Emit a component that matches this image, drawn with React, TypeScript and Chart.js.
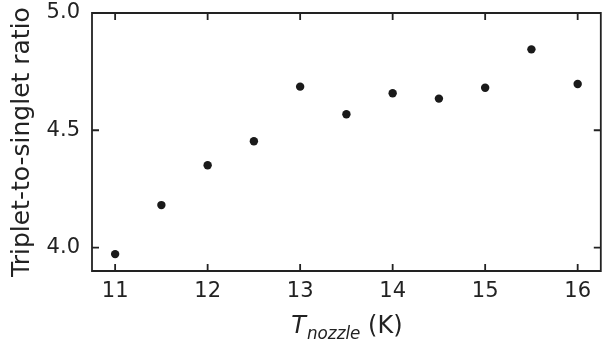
import React, { useEffect, useRef } from "react";
import { Chart, registerables } from "chart.js";

Chart.register(...registerables);

const temperatures = [11, 11.5, 12, 12.5, 13, 13.5, 14, 14.5, 15, 15.5, 16];
const ratios = [3.972, 4.181, 4.351, 4.453, 4.686, 4.568, 4.658, 4.635, 4.681, 4.845, 4.697];
const xTicks = [11, 12, 13, 14, 15, 16];
const yTicks = [4.0, 4.5, 5.0];
const xTitleMain = "T";
const xTitleSub = "nozzle";
const xTitleUnit = " (K)";
const yTitle = "Triplet-to-singlet ratio";

const INK = "#222222";
const FONT = "'DejaVu Sans', sans-serif";

const framePlugin = {
  id: "frameTicks",
  beforeDatasetsDraw(chart: any) {
    const { ctx, chartArea } = chart;
    const { left, right, top, bottom } = chartArea;
    const xs = chart.scales.x;
    const ys = chart.scales.y;
    const len = 7;
    ctx.save();
    ctx.strokeStyle = INK;
    ctx.lineWidth = 1.8;
    ctx.lineCap = "butt";
    ctx.beginPath();
    ctx.rect(left, top, right - left, bottom - top);
    ctx.stroke();
    ctx.beginPath();
    for (const v of xTicks) {
      const px = xs.getPixelForValue(v);
      ctx.moveTo(px, bottom);
      ctx.lineTo(px, bottom - len);
      ctx.moveTo(px, top);
      ctx.lineTo(px, top + len);
    }
    for (const v of yTicks) {
      const py = ys.getPixelForValue(v);
      ctx.moveTo(left, py);
      ctx.lineTo(left + len, py);
      ctx.moveTo(right, py);
      ctx.lineTo(right - len, py);
    }
    ctx.stroke();
    ctx.restore();
  },
  afterDraw(chart: any) {
    const { ctx, chartArea } = chart;
    const cx = (chartArea.left + chartArea.right) / 2;
    const baseline = 333;
    const mainFont = `italic 24px ${FONT}`;
    const subFont = `italic 16.8px ${FONT}`;
    const unitFont = `24px ${FONT}`;
    ctx.save();
    ctx.fillStyle = INK;
    ctx.textBaseline = "alphabetic";
    ctx.textAlign = "left";
    ctx.font = mainFont;
    const w1 = ctx.measureText(xTitleMain).width;
    ctx.font = subFont;
    const w2 = ctx.measureText(xTitleSub).width;
    ctx.font = unitFont;
    const w3 = ctx.measureText(xTitleUnit).width;
    let x = cx - (w1 + w2 + w3) / 2;
    ctx.font = mainFont;
    ctx.fillText(xTitleMain, x, baseline);
    x += w1 + 1;
    ctx.font = subFont;
    ctx.fillText(xTitleSub, x, baseline + 5.5);
    x += w2;
    ctx.font = unitFont;
    ctx.fillText(xTitleUnit, x, baseline);
    ctx.restore();
  },
};

export default function App() {
  const ref = useRef<HTMLCanvasElement>(null);
  useEffect(() => {
    if (!ref.current) return;
    const chart = new Chart(ref.current, {
      type: "scatter",
      data: {
        datasets: [
          {
            data: temperatures.map((t, i) => ({ x: t, y: ratios[i] })),
            backgroundColor: "#1a1a1a",
            borderWidth: 0,
            pointRadius: 4.2,
            pointHoverRadius: 4.2,
          },
        ],
      },
      options: {
        responsive: false,
        animation: false,
        events: [],
        layout: { padding: { left: 0, right: 1, top: 13, bottom: 0 } },
        plugins: { legend: { display: false }, tooltip: { enabled: false } },
        scales: {
          x: {
            type: "linear",
            min: 10.75,
            max: 16.25,
            afterBuildTicks: (s: any) => {
              s.ticks = xTicks.map((v) => ({ value: v }));
            },
            afterFit: (s: any) => {
              s.height = 75;
              s.paddingLeft = 0;
              s.paddingRight = 0;
            },
            grid: { display: false, drawTicks: false },
            border: { display: false },
            ticks: {
              color: INK,
              font: { family: FONT, size: 21 },
              padding: 8,
              maxRotation: 0,
              callback: (v: any) => String(v),
            },
          },
          y: {
            type: "linear",
            min: 3.9,
            max: 5.0,
            afterBuildTicks: (s: any) => {
              s.ticks = yTicks.map((v) => ({ value: v }));
            },
            afterFit: (s: any) => {
              s.width = 92;
              s.paddingTop = 0;
              s.paddingBottom = 0;
            },
            grid: { display: false, drawTicks: false },
            border: { display: false },
            ticks: {
              color: INK,
              font: { family: FONT, size: 21 },
              padding: 12,
              callback: (v: any) => Number(v).toFixed(1),
            },
            title: {
              display: true,
              text: yTitle,
              color: INK,
              font: { family: FONT, size: 25 },
              padding: { top: 7, bottom: 0 },
            },
          },
        },
      },
      plugins: [framePlugin],
    });
    return () => chart.destroy();
  }, []);
  return (
    <div style={{ position: "absolute", left: 0, top: 0, width: 605, height: 346, background: "#fff" }}>
      <canvas ref={ref} width={605} height={346} style={{ display: "block" }} />
    </div>
  );
}
